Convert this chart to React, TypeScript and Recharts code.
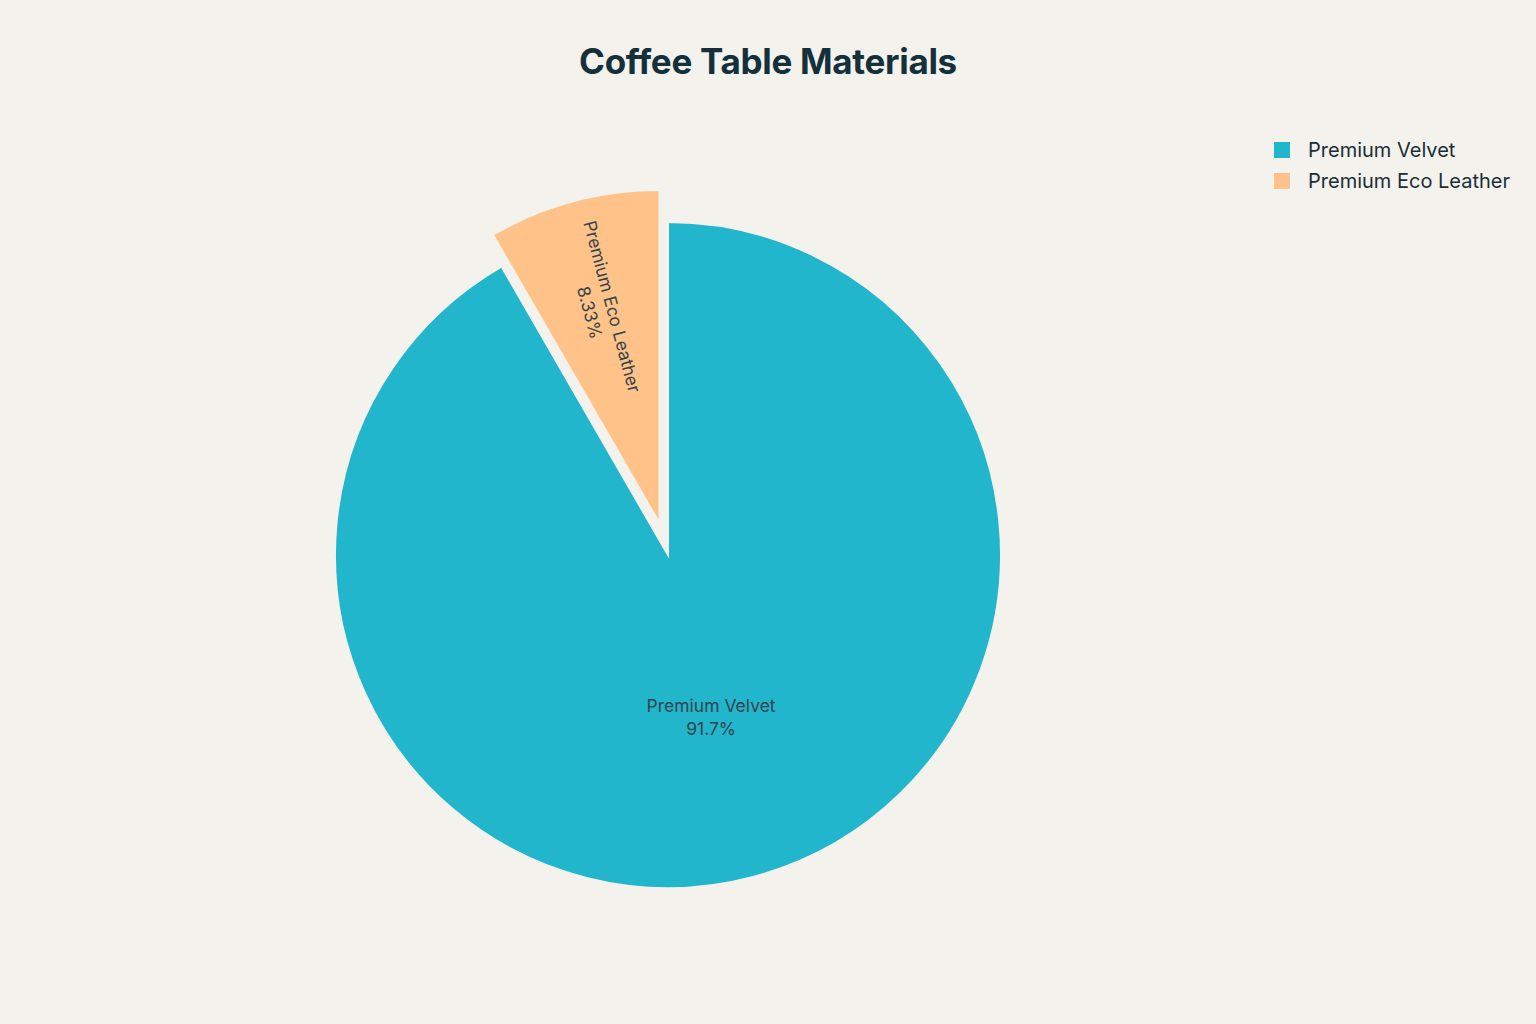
import React from 'react';
import { PieChart, Pie, Cell, Legend } from 'recharts';

const materials = ['Premium Velvet', 'Premium Eco Leather'];
const counts = [11, 1];
const colors = ['#21b6cb', '#ffc288'];
const pulled = [false, true];

const BG = '#f3f2ed';
const FONT = 'Inter, "Noto Sans", sans-serif';
const RAD = Math.PI / 180;

const data = materials.map((name, i) => ({ name, value: counts[i] }));

const PULL = 33; // px the eco leather slice is pulled out

const makeLabel = (showIndex: number) => (props: any) => {
  const { cx, cy, midAngle, outerRadius, percent, name, index } = props;
  if (index !== showIndex) return null;
  const rotated = pulled[index];
  const r = outerRadius * (rotated ? 0.665 : 0.5);
  const x = cx + r * Math.cos(-midAngle * RAD);
  const y = cy + r * Math.sin(-midAngle * RAD);
  const pct = `${(percent * 100).toPrecision(3)}%`;
  // radial text, reading from the rim towards the centre
  const rot = rotated ? 180 - midAngle : 0;
  return (
    <text
      x={x}
      y={y}
      textAnchor="middle"
      fill="#33454d"
      fontSize={17.5}
      fontFamily={FONT}
      transform={rot ? `rotate(${rot} ${x} ${y})` : undefined}
    >
      <tspan x={x} dy={-4}>{name}</tspan>
      <tspan x={x} dy={23}>{pct}</tspan>
    </text>
  );
};

const LegendBox = () => (
  <div style={{ fontFamily: FONT, fontSize: 20, color: '#1c2d35' }}>
    {materials.map((m, i) => (
      <div key={m} style={{ display: 'flex', alignItems: 'center', height: 31 }}>
        <span style={{ width: 16, height: 16, background: colors[i], marginRight: 18, display: 'inline-block' }} />
        <span>{m}</span>
      </div>
    ))}
  </div>
);

export default function App() {
  const cx = 668;
  const cy = 555;
  // mid angle of the pulled slice (clockwise from 12 o'clock)
  const total = counts.reduce((a, b) => a + b, 0);
  const midDeg = 90 - 360 * (counts[0] + counts[1] / 2) / total;
  const pcx = cx + PULL * Math.cos(-midDeg * RAD);
  const pcy = cy + PULL * Math.sin(-midDeg * RAD);

  return (
    <div style={{ position: 'absolute', left: 0, top: 0, width: 1536, height: 1024, background: BG }}>
      <div
        style={{
          position: 'absolute', top: 40, left: 0, width: 1536, textAlign: 'center',
          fontFamily: FONT, fontWeight: 700, fontSize: 35, color: '#13303b', letterSpacing: -0.3,
        }}
      >
        Coffee Table Materials
      </div>
      <PieChart
        width={1536}
        height={1024}
        margin={{ top: 0, right: 0, bottom: 0, left: 0 }}
        style={{ position: 'absolute', left: 0, top: 0 }}
      >
        <Pie
          data={data}
          dataKey="value"
          nameKey="name"
          cx={cx}
          cy={cy}
          outerRadius={333}
          startAngle={90}
          endAngle={-270}
          stroke={BG}
          strokeWidth={2}
          labelLine={false}
          label={makeLabel(0)}
          isAnimationActive={false}
        >
          {data.map((d, i) => (
            <Cell key={d.name} fill={pulled[i] ? 'transparent' : colors[i]} stroke={pulled[i] ? 'none' : BG} />
          ))}
        </Pie>
        <Pie
          data={data}
          dataKey="value"
          nameKey="name"
          cx={pcx}
          cy={pcy}
          outerRadius={333}
          startAngle={90}
          endAngle={-270}
          stroke={BG}
          strokeWidth={2}
          labelLine={false}
          label={makeLabel(1)}
          isAnimationActive={false}
        >
          {data.map((d, i) => (
            <Cell key={d.name} fill={pulled[i] ? colors[i] : 'transparent'} stroke={pulled[i] ? BG : 'none'} />
          ))}
        </Pie>
        <Legend
          content={<LegendBox />}
          wrapperStyle={{ position: 'absolute', left: 1274, top: 134, width: 260 }}
        />
      </PieChart>
    </div>
  );
}
